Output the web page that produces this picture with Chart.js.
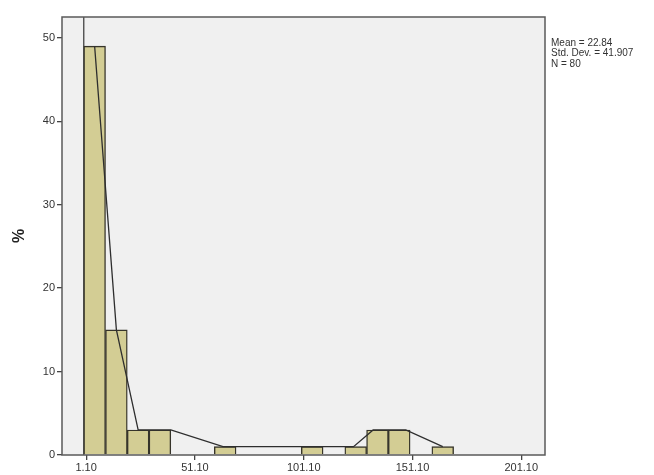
<!DOCTYPE html>
<html>
<head>
<meta charset="utf-8">
<script src="https://cdn.jsdelivr.net/npm/chart.js@4"></script>
<style>
html,body{margin:0;padding:0;background:#fff;}
#wrap{width:654px;height:475px;}
</style>
</head>
<body>
<div id="wrap"><canvas id="c" width="654" height="475"></canvas></div>
<script>
// Histogram bins (bin midpoints, width 10) and their percentages
const binMids = [5, 15, 25, 35, 65, 105, 125, 135, 145, 165];
const binPercents = [49, 15, 3, 3, 1, 1, 1, 3, 3, 1];
// Frequency polygon vertices
const polyX = [5, 15, 25, 40, 64, 124, 133, 148, 165];
const polyY = [49, 15, 3, 3, 1, 1, 3, 3, 1];
// Axis ticks
const xTicks = [1.10, 51.10, 101.10, 151.10, 201.10];
const yTicks = [0, 10, 20, 30, 40, 50];
// Summary stats
const statsLines = ["Mean = 22.84", "Std. Dev. = 41.907", "N = 80"];

const barData = binMids.map((x, i) => ({x: x, y: binPercents[i]}));
const polyData = polyX.map((x, i) => ({x: x, y: polyY[i]}));

const frame = {
  id: 'frame',
  beforeDraw(chart) {
    const a = chart.chartArea, ctx = chart.ctx;
    ctx.save();
    ctx.fillStyle = '#f0f0f0';
    ctx.fillRect(a.left, a.top, a.right - a.left, a.bottom - a.top);
    ctx.restore();
  },
  afterDraw(chart) {
    const a = chart.chartArea, ctx = chart.ctx;
    ctx.save();
    ctx.strokeStyle = '#5a5a5a';
    ctx.lineWidth = 1.5;
    ctx.strokeRect(a.left, a.top, a.right - a.left, a.bottom - a.top);
    ctx.fillStyle = '#333';
    ctx.font = '10px Arial, "Liberation Sans", sans-serif';
    ctx.textBaseline = 'middle';
    statsLines.forEach((t, i) => ctx.fillText(t, a.right + 6, 43 + i * 10.5));
    ctx.restore();
  }
};

new Chart(document.getElementById('c'), {
  type: 'bar',
  data: {
    datasets: [
      {
        type: 'line',
        data: [{x: 0, y: 0}, {x: 0, y: 52.5}],
        borderColor: '#444',
        borderWidth: 1.3,
        pointRadius: 0,
        order: 3
      },
      {
        type: 'bar',
        data: barData,
        backgroundColor: '#d3cd94',
        borderColor: '#36342a',
        borderWidth: 1.4,
        barPercentage: 1,
        categoryPercentage: 1,
        order: 2
      },
      {
        type: 'line',
        data: polyData,
        borderColor: '#2e2e2e',
        borderWidth: 1.3,
        pointRadius: 0,
        tension: 0,
        order: 1
      }
    ]
  },
  options: {
    responsive: false,
    animation: false,
    layout: {padding: {left: 0, right: 109, top: 17, bottom: 0}},
    plugins: {legend: {display: false}, tooltip: {enabled: false}},
    scales: {
      x: {
        type: 'linear',
        min: -10,
        max: 212,
        offset: false,
        afterBuildTicks: s => { s.ticks = xTicks.map(v => ({value: v})); },
        afterFit: s => { s.height = 20; },
        ticks: {
          autoSkip: false,
          maxRotation: 0,
          padding: 1,
          color: '#333',
          font: {family: 'Arial, "Liberation Sans", sans-serif', size: 11},
          callback: v => Number(v).toFixed(2)
        },
        grid: {display: true, offset: false, drawOnChartArea: false, drawTicks: true, tickLength: 5, color: '#444', lineWidth: 1.3},
        border: {display: false}
      },
      y: {
        min: 0,
        max: 52.5,
        afterBuildTicks: s => { s.ticks = yTicks.map(v => ({value: v})); },
        afterFit: s => { s.width = 62; },
        ticks: {
          padding: 2,
          color: '#333',
          font: {family: 'Arial, "Liberation Sans", sans-serif', size: 11}
        },
        grid: {display: true, offset: false, drawOnChartArea: false, drawTicks: true, tickLength: 5, color: '#444', lineWidth: 1.3},
        border: {display: false},
        title: {
          display: true,
          text: '%',
          color: '#222',
          padding: {top: 10, bottom: 0},
          font: {family: 'Arial, "Liberation Sans", sans-serif', size: 16, weight: 'bold'}
        }
      }
    }
  },
  plugins: [frame]
});
</script>
</body>
</html>
